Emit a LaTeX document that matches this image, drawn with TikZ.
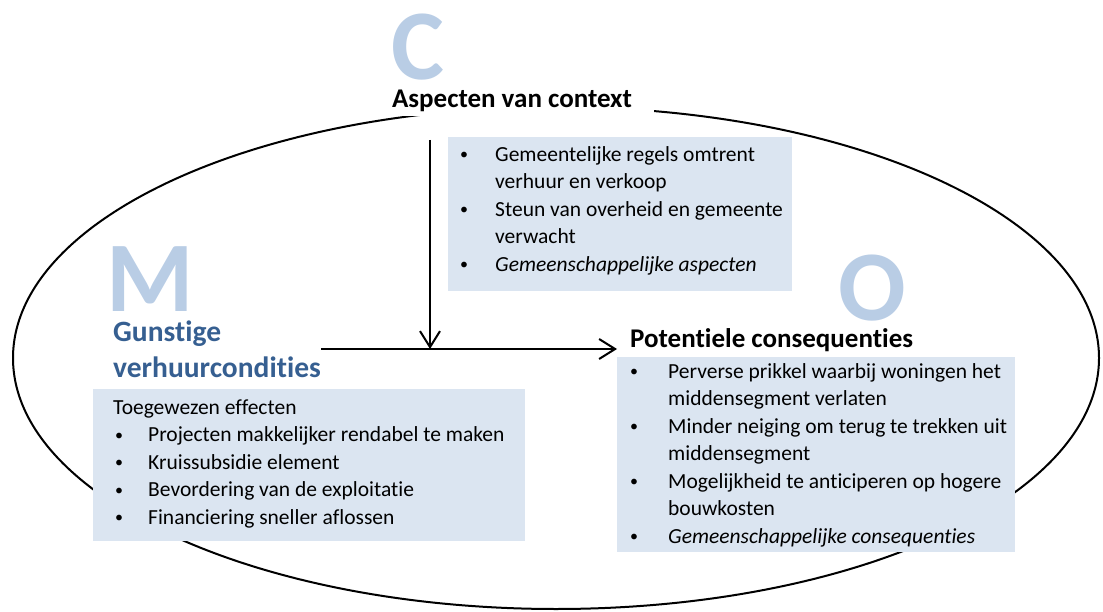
\documentclass[tikz,border=0pt]{standalone}
\usepackage{fontspec}
\setmainfont{Carlito}[Ligatures=NoCommon]
\usetikzlibrary{arrows.meta,positioning}
\definecolor{letterblue}{RGB}{185,205,229}
\definecolor{titleblue}{RGB}{54,95,145}
\definecolor{boxfill}{RGB}{219,229,241}
\newcommand{\cmobullet}{\raisebox{1.5pt}{\fontsize{16}{16}\selectfont\textbullet}}
\tikzset{
  bigletter/.style={font=\fontsize{100}{100}\selectfont\bfseries, text=letterblue, inner sep=0pt, text depth=0pt, anchor=base},
  cmotitle/.style={font=\fontsize{27}{36}\selectfont\bfseries, inner sep=0pt},
  listbox/.style={fill=boxfill, inner sep=0pt, anchor=north west, font=\fontsize{21.5}{27.5}\selectfont},
  cmoarrow/.style={line width=2pt, -{Straight Barb[length=16pt,width=20pt]}}
}

\begin{document}
\begin{tikzpicture}[x=1pt, y=-1pt]
    \useasboundingbox (0,0) rectangle (1103,612);
    % outer ellipse
    \draw[line width=2pt] (556,358) ellipse [x radius=543pt, y radius=251pt];

    % C - context
    \node[bigletter] (cletter) at (418,80) {C};
    \node[cmotitle, fill=white, inner xsep=22pt, inner ysep=4pt] (ctxtitle) at (512,101) {Aspecten van context};
    \node[listbox] (ctxlist) at (448,137) {\parbox[t][154pt][t]{344pt}{\vspace*{5pt}\hspace*{12pt}\begin{tabular}[t]{@{}p{35pt}@{}l@{}}
        \cmobullet & Gemeentelijke regels omtrent\\
                   & verhuur en verkoop\\
        \cmobullet & Steun van overheid en gemeente\\
                   & verwacht\\
        \cmobullet & \textit{Gemeenschappelijke aspecten}
    \end{tabular}}};

    % M - mechanism
    \node[bigletter] (mletter) at (150,312) {M};
    \node[cmotitle, font=\fontsize{29.5}{36}\selectfont\bfseries, text=titleblue, align=left, anchor=west] (mtitle) at (113,349) {Gunstige\\verhuurcondities};
    \node[listbox] (mlist) at (93,389) {\parbox[t][152pt][t]{432pt}{\vspace*{6pt}\hspace*{20pt}\begin{tabular}[t]{@{}p{35pt}@{}l@{}}
        \multicolumn{2}{@{}l@{}}{Toegewezen effecten}\\
        \hspace*{2pt}\cmobullet & Projecten makkelijker rendabel te maken\\
        \hspace*{2pt}\cmobullet & Kruissubsidie element\\
        \hspace*{2pt}\cmobullet & Bevordering van de exploitatie\\
        \hspace*{2pt}\cmobullet & Financiering sneller aflossen
    \end{tabular}}};

    % O - outcome
    \node[bigletter] (oletter) at (872,320) {O};
    \node[cmotitle, anchor=base west] (otitle) at (630,348) {Potentiele consequenties};
    \node[listbox] (olist) at (617,357) {\parbox[t][195pt][t]{398pt}{\vspace*{2pt}\hspace*{13pt}\begin{tabular}[t]{@{}p{38pt}@{}l@{}}
        \cmobullet & Perverse prikkel waarbij woningen het\\
                   & middensegment verlaten\\
        \cmobullet & Minder neiging om terug te trekken uit\\
                   & middensegment\\
        \cmobullet & Mogelijkheid te anticiperen op hogere\\
                   & bouwkosten\\
        \cmobullet & \textit{Gemeenschappelijke consequenties}
    \end{tabular}}};

    % arrows
    \coordinate (ctxstart) at (430,140);
    \coordinate (join) at (ctxstart |- mtitle.east);
    \draw[cmoarrow] (mtitle.east) -- ([xshift=-13pt]mtitle.east -| otitle.west);
    \draw[cmoarrow] (ctxstart) -- (join);
\end{tikzpicture}
\end{document}
